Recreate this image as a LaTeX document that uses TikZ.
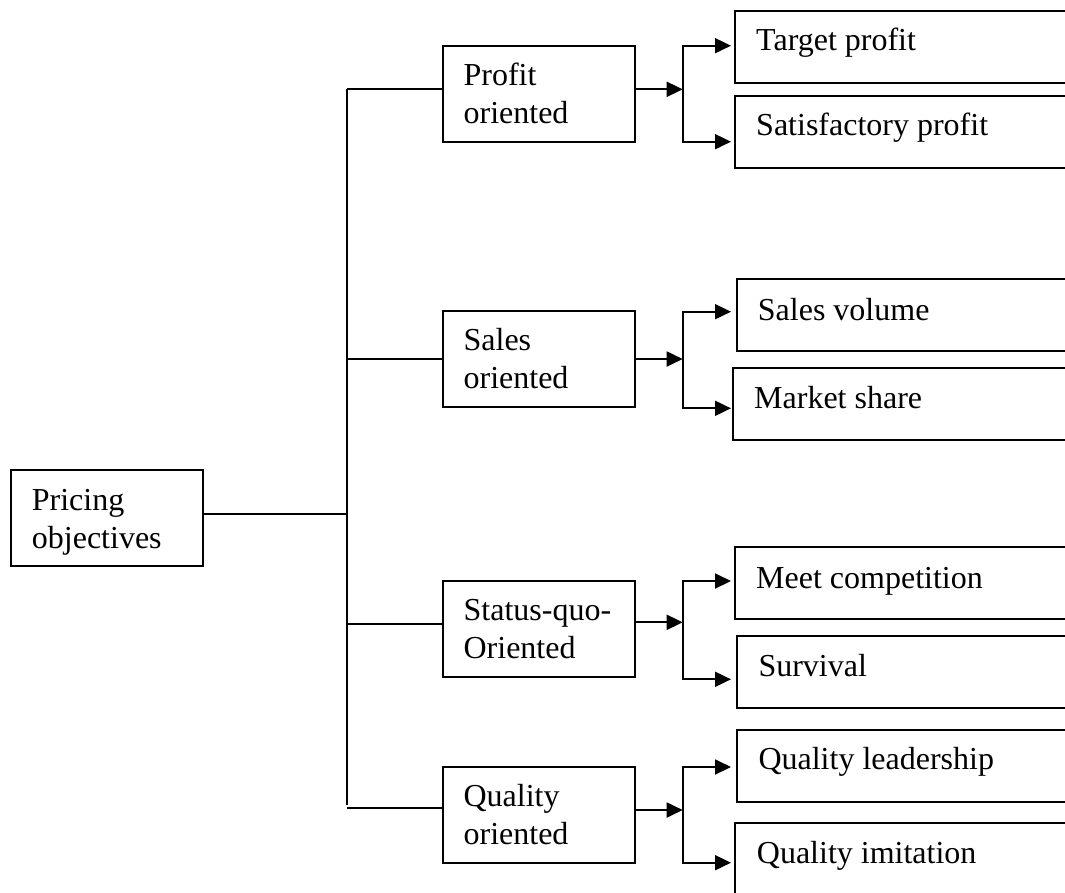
\documentclass[tikz,border=0pt]{standalone}
\usepackage{fontspec}
\setmainfont{Liberation Serif}
\usetikzlibrary{arrows.meta}
\begin{document}
\begin{tikzpicture}[x=1pt,y=-1pt,
  box/.style={draw, line width=1.9pt, rectangle, inner sep=0pt, outer sep=0pt, anchor=north west},
  midbox/.style={box, minimum width=192.6pt, minimum height=96pt},
  leafbox/.style={box, minimum height=72pt},
  lbl/.style={anchor=base west, inner sep=0pt, align=left, font=\fontsize{32}{38}\selectfont},
  wire/.style={line width=1.9pt},
  arr/.style={wire, -{Triangle[length=16pt,width=15pt]}},
]
\useasboundingbox (0,0) rectangle (1065,892);
\clip (0,0) rectangle (1065,892);

% root (two-line labels are anchored on the baseline of their last line)
\node[box, minimum width=192pt, minimum height=96pt] (root) at (11,470) {};
\node[lbl] (root-l) at ([shift={(20.7pt,-78.3pt)}]root.north west) {Pricing\\objectives};

% second level
\node[midbox] (po) at (442.7,45.7) {};
\node[midbox] (so) at (442.7,311) {};
\node[midbox] (sq) at (442.7,581) {};
\node[midbox] (qo) at (442.7,767) {};
\node[lbl] (po-l) at ([shift={(20.7pt,-77.6pt)}]po.north west) {Profit\\oriented};
\node[lbl] (so-l) at ([shift={(20.7pt,-77.6pt)}]so.north west) {Sales\\oriented};
\node[lbl] (sq-l) at ([shift={(20.7pt,-77.6pt)}]sq.north west) {Status-quo-\\Oriented};
\node[lbl] (qo-l) at ([shift={(20.7pt,-77.6pt)}]qo.north west) {Quality\\oriented};

% leaves (running past the right edge)
\node[leafbox, minimum width=345pt] (tp) at (734.7,10.7) {};
\node[leafbox, minimum width=345pt] (sp) at (735,95.7) {};
\node[leafbox, minimum width=345pt] (sv) at (736.7,279.3) {};
\node[leafbox, minimum width=345pt] (ms) at (732.7,368.3) {};
\node[leafbox, minimum width=345pt] (mc) at (734.7,547.3) {};
\node[leafbox, minimum width=345pt] (sr) at (737,636) {};
\node[leafbox, minimum width=345pt] (ql) at (737,730) {};
\node[leafbox, minimum width=345pt, minimum height=90pt] (qi) at (734.7,823.3) {};
\node[lbl] (tp-l) at ([shift={(21.3pt,-40pt)}]tp.north west) {Target profit};
\node[lbl] (sp-l) at ([shift={(21pt,-40pt)}]sp.north west) {Satisfactory profit};
\node[lbl] (sv-l) at ([shift={(21pt,-40.7pt)}]sv.north west) {Sales volume};
\node[lbl] (ms-l) at ([shift={(21.3pt,-40pt)}]ms.north west) {Market share};
\node[lbl] (mc-l) at ([shift={(21.3pt,-41pt)}]mc.north west) {Meet competition};
\node[lbl] (sr-l) at ([shift={(21.3pt,-40.7pt)}]sr.north west) {Survival};
\node[lbl] (ql-l) at ([shift={(21.3pt,-39pt)}]ql.north west) {Quality leadership};
\node[lbl] (qi-l) at ([shift={(22pt,-40pt)}]qi.north west) {Quality imitation};

% trunk junctions
\coordinate (t1) at (346.7,89.3);
\coordinate (t2) at (346.7,359);
\coordinate (tr) at (346.7,514);
\coordinate (t3) at (346.7,624.3);
\coordinate (t4) at (346.7,807.7);
\coordinate (tend) at (346.7,805);

% branch junctions
\coordinate (b1) at (682.7,89.3);
\coordinate (b1t) at (682.7,45.7);
\coordinate (b1b) at (682.7,141.7);
\coordinate (b2) at (682.7,359);
\coordinate (b2t) at (682.7,311.7);
\coordinate (b2b) at (682.7,408.3);
\coordinate (b3) at (682.7,622.3);
\coordinate (b3t) at (682.7,581);
\coordinate (b3b) at (682.7,679.3);
\coordinate (b4) at (682.7,810);
\coordinate (b4t) at (682.7,767);
\coordinate (b4b) at (682.7,862.7);

% trunk
\draw[wire] (t1) -- (tend);
\draw[wire] (root.east |- tr) -- (tr);
\draw[wire] (t1) -- (t1 -| po.west);
\draw[wire] (t2) -- (t2 -| so.west);
\draw[wire] (t3) -- (t3 -| sq.west);
\draw[wire] (t4) -- (t4 -| qo.west);

% from each group box to its fork
\draw[arr] (po.east |- b1) -- (b1);
\draw[arr] (so.east |- b2) -- (b2);
\draw[arr] (sq.east |- b3) -- (b3);
\draw[arr] (qo.east |- b4) -- (b4);

% forks to the leaves
\draw[arr] (b1) -- (b1t) -- ([xshift=-3.7pt]b1t -| tp.west);
\draw[arr] (b1) -- (b1b) -- ([xshift=-4pt]b1b -| sp.west);
\draw[arr] (b2) -- (b2t) -- ([xshift=-5.7pt]b2t -| sv.west);
\draw[arr] (b2) -- (b2b) -- ([xshift=-1.7pt]b2b -| ms.west);
\draw[arr] (b3) -- (b3t) -- ([xshift=-3.7pt]b3t -| mc.west);
\draw[arr] (b3) -- (b3b) -- ([xshift=-6pt]b3b -| sr.west);
\draw[arr] (b4) -- (b4t) -- ([xshift=-6pt]b4t -| ql.west);
\draw[arr] (b4) -- (b4b) -- ([xshift=-3.7pt]b4b -| qi.west);
\end{tikzpicture}
\end{document}
